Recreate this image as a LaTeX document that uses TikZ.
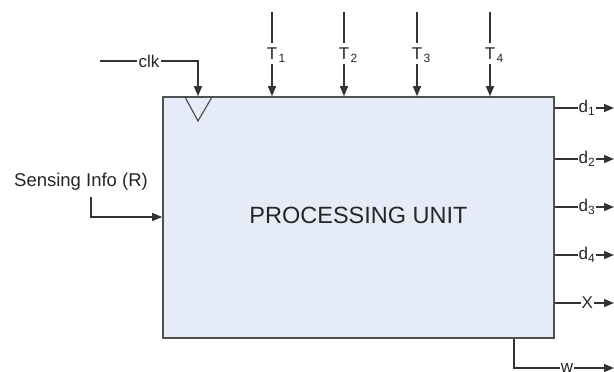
\documentclass[tikz,border=0pt]{standalone}
\usepackage{fontspec}
\setmainfont{Liberation Sans}
\usetikzlibrary{arrows.meta}
\definecolor{boxfill}{HTML}{E5ECF7}
\definecolor{boxline}{HTML}{505050}
\definecolor{wire}{HTML}{333333}
\definecolor{txt}{HTML}{262626}
\begin{document}
\begin{tikzpicture}[x=1pt,y=1pt,
  wirestyle/.style={draw=wire,line width=1.3pt},
  arr/.style={wirestyle,-{Triangle[length=10pt,width=8pt]}},
  lbl/.style={fill=white,inner sep=1.5pt,text=txt,font=\fontsize{17}{20}\selectfont},
  subtxt/.style={text=txt,inner sep=0pt,font=\fontsize{12}{14}\selectfont},
  bigtxt/.style={text=txt,font=\fontsize{23.5}{28}\selectfont}]
\useasboundingbox (0,0) rectangle (614,-372);
% processing unit
\node[draw=boxline,fill=boxfill,line width=1.6pt,minimum width=391pt,minimum height=241pt,inner sep=0pt] (pu) at (358.5,-217.5) {};
\node[bigtxt] (putxt) at (358.5,-215) {PROCESSING UNIT};
% clock triangle
\draw[draw=boxline,line width=1.2pt] (185,-97) -- (198,-121) -- (212,-97);
% clk
\coordinate (clkstart) at (100,-61);
\coordinate (clkcorner) at (198,-61);
\draw[arr] (clkstart) -- node[lbl] (clklbl) {clk} (clkcorner) -- (clkcorner |- pu.north);
% T inputs
\foreach \i/\x in {1/272,2/344,3/417,4/490}{
  \coordinate (t\i top) at (\x,-12);
  \draw[arr] (t\i top) -- node[lbl,pos=0.49,inner xsep=1pt,inner ysep=4.5pt] (t\i lbl) {T} (t\i top |- pu.north);
  \node[subtxt,anchor=base west] (t\i sub) at ([xshift=-0.5pt,yshift=-3.5pt]t\i lbl.base east) {\i};
}
% outputs d1..d4
\foreach \n/\y/\k in {d1/108/1,d2/159/2,d3/207/3,d4/255/4}{
  \coordinate (\n out) at (614,-\y);
  \draw[arr] (pu.east |- \n out) -- node[lbl,pos=0.54,inner xsep=1pt] (\n lbl) {d\raisebox{-3.5pt}{\fontsize{12}{14}\selectfont\k}} (\n out);
}
% X output
\coordinate (xout) at (614,-303);
\draw[arr] (pu.east |- xout) -- node[lbl,pos=0.55,inner xsep=1pt] (xlbl) {X} (xout);
% w output
\coordinate (wcorner) at (514,-368);
\coordinate (wout) at (614,-368);
\draw[arr] (wcorner |- pu.south) -- (wcorner) -- node[lbl,pos=0.53,inner xsep=1pt] (wlbl) {w} (wout);
% sensing info
\node[text=txt,font=\fontsize{18.5}{22}\selectfont,inner sep=0pt] (sense) at (81,-182) {Sensing Info (R)};
\coordinate (sensestart) at (91,-197);
\coordinate (sensecorner) at (91,-217);
\draw[arr] (sensestart) -- (sensecorner) -- (pu.west |- sensecorner);
\end{tikzpicture}
\end{document}
